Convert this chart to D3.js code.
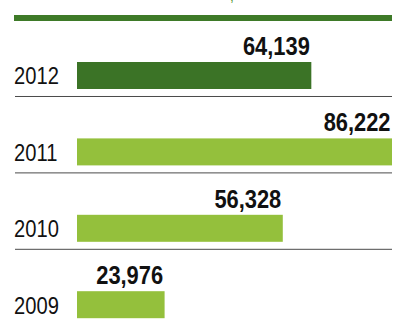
<!DOCTYPE html>
<html>
<head>
<meta charset="utf-8">
<script src="https://cdn.jsdelivr.net/npm/d3@7"></script>
<style>
  html, body { margin: 0; padding: 0; background: #fff; }
  svg { display: block; }
</style>
</head>
<body>
<svg id="chart" width="393" height="320"></svg>
<script>
// Yearly totals, newest first
const years = ["2012", "2011", "2010", "2009"];
const totals = [64139, 86222, 56328, 23976];
const barColors = ["#3b7326", "#94c03c", "#94c03c", "#94c03c"];

const svg = d3.select("#chart");
const W = 393;
const FONT = "Liberation Sans, Arial, sans-serif";

const x = d3.scaleLinear().domain([0, 86222]).range([77, 392]);
const y = d3.scaleBand().domain(years).range([62, 318.2]).paddingInner(0.6466).paddingOuter(0);

const fmt = d3.format(",");
const rows = years.map((yr, i) => ({ year: yr, value: totals[i], color: barColors[i] }));

// title remnant and heavy green rule at the top
svg.append("text")
  .attr("x", 230).attr("y", 1)
  .attr("font-family", FONT)
  .attr("font-size", 14).attr("fill", "#5a9a3a")
  .text(",");
svg.append("rect")
  .attr("x", 14).attr("y", 15).attr("width", W - 14 - 1).attr("height", 6)
  .attr("fill", "#3e7a28");

// thin separators beneath each row except the last
svg.selectAll("line.sep")
  .data(rows.slice(0, 3))
  .join("line")
  .attr("class", "sep")
  .attr("x1", 15).attr("x2", 392)
  .attr("y1", d => y(d.year) + y.bandwidth() + 7.5)
  .attr("y2", d => y(d.year) + y.bandwidth() + 7.5)
  .attr("stroke", "#4a4a4a").attr("stroke-width", 1);

// bars
svg.selectAll("rect.bar")
  .data(rows)
  .join("rect")
  .attr("class", "bar")
  .attr("x", x(0))
  .attr("y", d => y(d.year))
  .attr("width", d => x(d.value) - x(0))
  .attr("height", y.bandwidth())
  .attr("fill", d => d.color);

// year labels (condensed horizontally)
svg.selectAll("text.year")
  .data(rows)
  .join("text")
  .attr("class", "year")
  .attr("transform", d => `translate(14,${y(d.year) + y.bandwidth() - 4.5}) scale(0.84,1)`)
  .attr("font-family", FONT)
  .attr("font-size", 24)
  .attr("fill", "#111")
  .text(d => d.year);

// value labels above each bar end (condensed bold)
svg.selectAll("text.val")
  .data(rows)
  .join("text")
  .attr("class", "val")
  .attr("transform", d => `translate(${x(d.value) - 1.5},${y(d.year) - 7}) scale(0.875,1)`)
  .attr("text-anchor", "end")
  .attr("font-family", FONT)
  .attr("font-weight", "bold")
  .attr("font-size", 25)
  .attr("fill", "#111")
  .text(d => fmt(d.value));
</script>
</body>
</html>
